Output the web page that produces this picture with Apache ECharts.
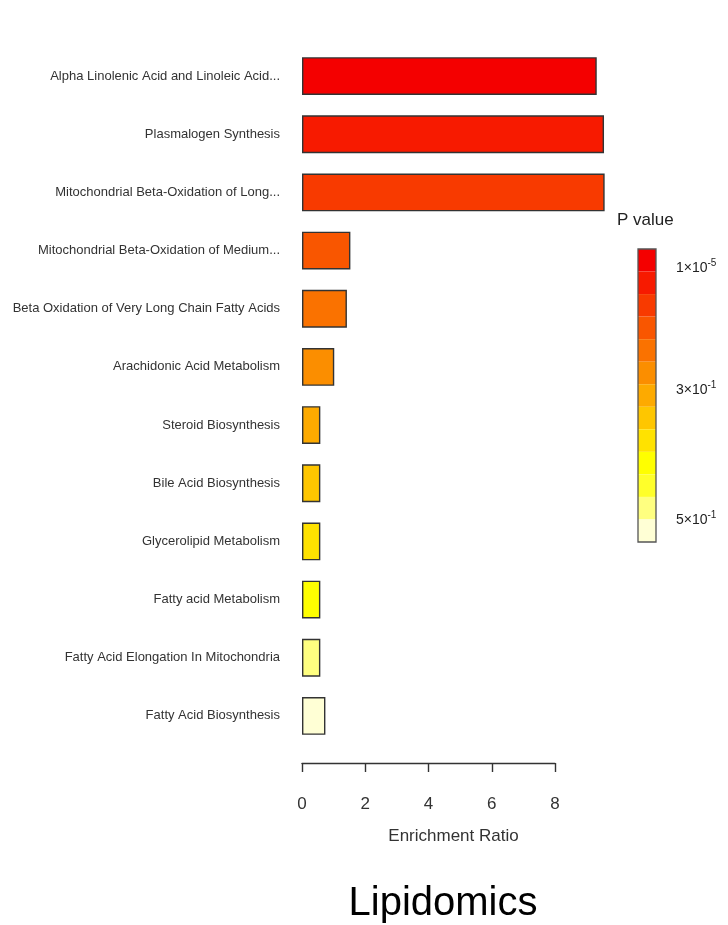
<!DOCTYPE html>
<html>
<head>
<meta charset="utf-8">
<title>Lipidomics</title>
<script src="https://cdn.jsdelivr.net/npm/echarts@6/dist/echarts.min.js"></script>
<style>
  html, body { margin: 0; padding: 0; background: #ffffff; }
  #chart { width: 728px; height: 925px; }
</style>
</head>
<body>
<div id="chart"></div>
<script>
// Pathway enrichment (over-representation) results, top row first
const pathways = [
  'Alpha Linolenic Acid and Linoleic Acid...',
  'Plasmalogen Synthesis',
  'Mitochondrial Beta-Oxidation of Long...',
  'Mitochondrial Beta-Oxidation of Medium...',
  'Beta Oxidation of Very Long Chain Fatty Acids',
  'Arachidonic Acid Metabolism',
  'Steroid Biosynthesis',
  'Bile Acid Biosynthesis',
  'Glycerolipid Metabolism',
  'Fatty acid Metabolism',
  'Fatty Acid Elongation In Mitochondria',
  'Fatty Acid Biosynthesis'
];
const enrichmentRatio = [9.32, 9.55, 9.57, 1.53, 1.42, 1.02, 0.58, 0.58, 0.58, 0.58, 0.58, 0.74];
const pValues = [0.00001, 0.03, 0.08, 0.13, 0.18, 0.23, 0.28, 0.33, 0.37, 0.41, 0.49, 0.55];

// Axis ticks
const ratioTicks = [0, 2, 4, 6, 8];

// P value colour scale: bin edges and the heat palette for each bin
const pBreaks = [0, 0.01, 0.06, 0.11, 0.16, 0.21, 0.26, 0.31, 0.35, 0.39, 0.43, 0.47, 0.51, 1.0];
const heatColors = ['#F40000', '#F71A00', '#F83A00', '#F95600', '#FA7200', '#FB8E00', '#FDAA00',
                    '#FEC600', '#FFE200', '#FFFF00', '#FFFF2A', '#FFFF80', '#FFFFD5'];
const legendTicks = [
  { base: '1×10', exp: '-5' },
  { base: '3×10', exp: '-1' },
  { base: '5×10', exp: '-1' }
];

const FONT = '"Liberation Sans", Arial, sans-serif';

const chart = echarts.init(document.getElementById('chart'), null, { renderer: 'canvas' });

const seriesData = pathways.map((name, i) => [enrichmentRatio[i], name, pValues[i]]);
const pieces = heatColors.map((c, k) => ({ gte: pBreaks[k], lt: pBreaks[k + 1], color: c }));

// Colour bar geometry
const BAR_X = 638, BAR_Y = 249, BAR_W = 18, BAR_H = 293;
const legendLabelY = [266, 388, 518];
const legendLabels = legendTicks.map((t, i) => ({
  type: 'text',
  x: 676,
  y: legendLabelY[i],
  z: 100,
  style: {
    text: '{m|' + t.base + '}{s|' + t.exp + '}',
    verticalAlign: 'middle',
    rich: {
      m: { fontFamily: FONT, fontSize: 14, fill: '#222', lineHeight: 18, verticalAlign: 'bottom' },
      s: { fontFamily: FONT, fontSize: 10, fill: '#222', lineHeight: 18, padding: [0, 0, 7, 0], verticalAlign: 'bottom' }
    }
  }
}));

chart.setOption({
  animation: false,
  backgroundColor: '#ffffff',
  title: {
    text: 'Lipidomics',
    left: 438,
    top: 879,
    textAlign: 'center',
    textStyle: { fontFamily: FONT, fontSize: 40, fontWeight: 'normal', color: '#000000' }
  },
  grid: { left: 302, right: 173, top: 47, bottom: 180, containLabel: false },
  xAxis: {
    type: 'value',
    min: ratioTicks[0],
    max: ratioTicks[ratioTicks.length - 1],
    interval: ratioTicks[1] - ratioTicks[0],
    offset: 18,
    name: 'Enrichment Ratio',
    nameLocation: 'middle',
    nameGap: 65,
    nameTextStyle: { fontFamily: FONT, fontSize: 17, color: '#333', padding: [0, 0, 0, 50] },
    axisLine: { show: true, lineStyle: { color: '#333', width: 1.4 } },
    axisTick: { show: true, length: 9, lineStyle: { color: '#333', width: 1.4 } },
    axisLabel: { fontFamily: FONT, fontSize: 17, color: '#333', margin: 33 },
    splitLine: { show: false }
  },
  yAxis: {
    type: 'category',
    inverse: true,
    data: pathways,
    axisLine: { show: false },
    axisTick: { show: false },
    axisLabel: { fontFamily: FONT, fontSize: 13, color: '#333', margin: 22 }
  },
  visualMap: {
    type: 'piecewise',
    seriesIndex: 0,
    dimension: 2,
    pieces: pieces,
    orient: 'vertical',
    inverse: true,
    left: BAR_X,
    top: BAR_Y,
    itemWidth: BAR_W,
    itemHeight: BAR_H / heatColors.length,
    itemGap: 0,
    itemSymbol: 'rect',
    showLabel: false,
    selectedMode: false,
    hoverLink: false,
    padding: 0
  },
  graphic: [
    {
      type: 'text',
      left: 617,
      top: 212,
      style: { text: 'P value', fontFamily: FONT, fontSize: 17, fill: '#222' }
    },
    {
      type: 'rect',
      z: 100,
      shape: { x: BAR_X, y: BAR_Y, width: BAR_W, height: BAR_H },
      style: { fill: 'none', stroke: '#555', lineWidth: 1.3 }
    }
  ].concat(legendLabels),
  series: [{
    type: 'bar',
    clip: false,
    barCategoryGap: '35%',
    encode: { x: 0, y: 1 },
    data: seriesData,
    itemStyle: { borderColor: '#333', borderWidth: 1.4 }
  }]
});
</script>
</body>
</html>
